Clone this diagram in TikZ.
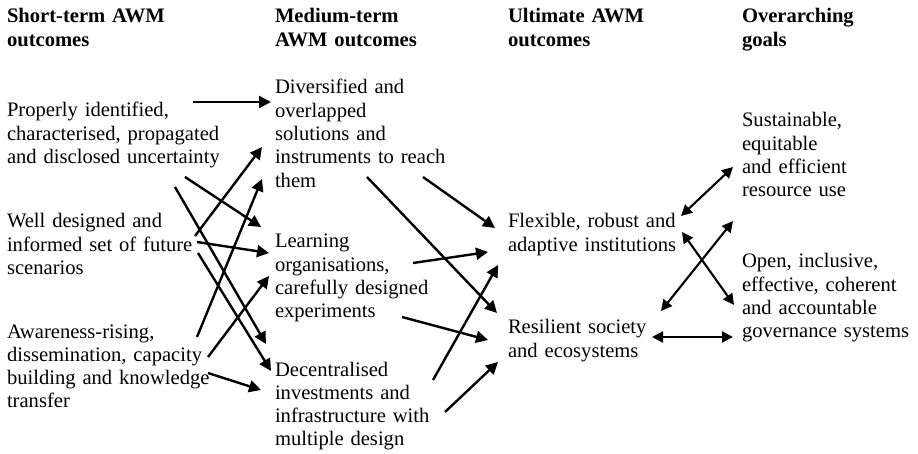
\documentclass[tikz,border=0pt]{standalone}
\usepackage{fontspec}
\setmainfont{Liberation Serif}
\usetikzlibrary{arrows.meta,calc}
\begin{document}
\begin{tikzpicture}[x=1pt,y=-1pt,
  txt/.style={anchor=base west,inner sep=0pt,outer sep=0pt,text width=260pt,align=left,
    font=\fontsize{20.6}{23.3}\selectfont},
  head/.style={txt,font=\fontsize{20.6}{23.3}\selectfont\bfseries},
  arr/.style={line width=2.4pt,-{Triangle[length=12pt,width=12pt]}},
  darr/.style={line width=2.1pt,{Triangle[length=11pt,width=11pt]}-{Triangle[length=11pt,width=11pt]}}]
\fill[white] (0,0) rectangle (918,454);
\useasboundingbox (0,0) rectangle (918,454);

% column headings
\node[head] (h1) at (7,23)   {Short-term AWM\\outcomes};
\node[head] (h2) at (275,23) {Medium-term\\AWM outcomes};
\node[head] (h3) at (508,23) {Ultimate AWM\\outcomes};
\node[head] (h4) at (742,23) {Overarching\\goals};

% short-term outcomes
\node[txt] (s1) at (7,117) {Properly identified,\\characterised, propagated\\and disclosed uncertainty};
\node[txt] (s2) at (7,228) {Well designed and\\informed set of future\\scenarios};
\node[txt] (s3) at (7,338) {Awareness-rising,\\dissemination, capacity\\building and knowledge\\transfer};

% medium-term outcomes
\node[txt] (m1) at (275,94)  {Diversified and\\overlapped\\solutions and\\instruments to reach\\them};
\node[txt] (m2) at (275,248) {Learning\\organisations,\\carefully designed\\experiments};
\node[txt] (m3) at (275,376) {Decentralised\\investments and\\infrastructure with\\multiple design};

% ultimate outcomes
\node[txt] (u1) at (508,228) {Flexible, robust and\\adaptive institutions};
\node[txt] (u2) at (508,334) {Resilient society\\and ecosystems};

% overarching goals
\node[txt] (g1) at (742,127) {Sustainable,\\equitable\\and efficient\\resource use};
\node[txt] (g2) at (742,268) {Open, inclusive,\\effective, coherent\\and accountable\\governance systems};

% short-term -> medium-term
\draw[arr] ($(s1.base west)+(186,-15)$) -- ($(m1.base west)+(-4,8)$);
\draw[arr] ($(s1.base west)+(178,60)$)  -- ($(m2.base west)+(-14,-21)$);
\draw[arr] ($(s1.base west)+(168,70)$)  -- ($(m3.base west)+(-9,-32)$);
\draw[arr] ($(s2.base west)+(188,8)$)   -- ($(m1.base west)+(-13,53)$);
\draw[arr] ($(s2.base west)+(190,14)$)  -- ($(m2.base west)+(-6,5)$);
\draw[arr] ($(s2.base west)+(191,25)$)  -- ($(m3.base west)+(-4,-5)$);
\draw[arr] ($(s3.base west)+(190,-1)$)  -- ($(m1.base west)+(-13,85)$);
\draw[arr] ($(s3.base west)+(201,19)$)  -- ($(m2.base west)+(-6,28)$);
\draw[arr] ($(s3.base west)+(201,35)$)  -- ($(m3.base west)+(-14,14)$);

% medium-term -> ultimate
\draw[arr] ($(m1.base west)+(148,83)$)  -- ($(u1.base west)+(-13,0)$);
\draw[arr] ($(m1.base west)+(92,83)$)   -- ($(u2.base west)+(-11,-21)$);
\draw[arr] ($(m2.base west)+(138,15)$)  -- ($(u1.base west)+(-20,24)$);
\draw[arr] ($(m2.base west)+(127,69)$)  -- ($(u2.base west)+(-20,6)$);
\draw[arr] ($(m3.base west)+(158,4)$)   -- ($(u1.base west)+(-10,37)$);
\draw[arr] ($(m3.base west)+(170,36)$)  -- ($(u2.base west)+(-10,28)$);

% ultimate <-> overarching goals
\draw[darr] ($(u1.base west)+(173,-12)$) -- ($(g1.base west)+(-9,40)$);
\draw[darr] ($(u1.base west)+(174,4)$)   -- ($(g2.base west)+(-8,37)$);
\draw[darr] ($(u2.base west)+(153,-23)$) -- ($(g1.base west)+(-9,94)$);
\draw[darr] ($(u2.base west)+(144,3)$)   -- ($(g2.base west)+(-9,69)$);
\end{tikzpicture}
\end{document}
